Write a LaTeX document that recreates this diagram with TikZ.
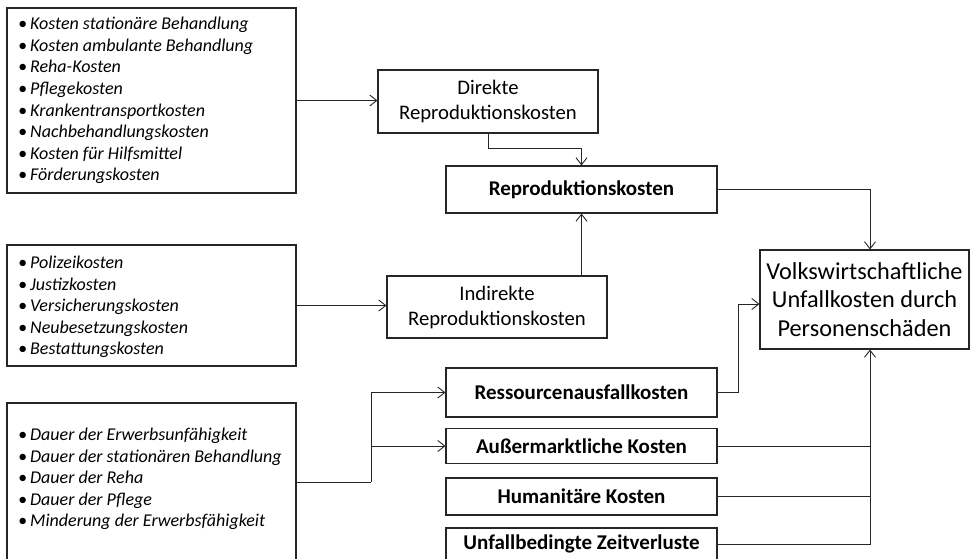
\documentclass[tikz,border=0pt]{standalone}
\usepackage{fontspec}
\setmainfont{Carlito}
\usetikzlibrary{arrows.meta}
\newcommand{\lbul}{\textbullet\hspace{3pt}}
\begin{document}
\begin{tikzpicture}[x=1pt,y=-1pt,
 box/.style={draw=black!85, line width=1.1pt, inner sep=0pt, rectangle},
 conn/.style={draw=black!85, line width=0.9pt, -{Straight Barb[length=7pt,width=11pt,line width=0.9pt]}},
 plain/.style={draw=black!85, line width=0.9pt},
 listtext/.style={font=\fontsize{18}{21.6}\selectfont\itshape, align=left, inner sep=0pt, anchor=west},
 midtext/.style={font=\fontsize{20.7}{25}\selectfont, align=center},
 bigtext/.style={font=\fontsize{24.3}{28.5}\selectfont, align=center},
 boldtext/.style={font=\fontsize{21}{24}\selectfont\bfseries},
]
\useasboundingbox (0,0) rectangle (970,558);
\clip (0,0) rectangle (970,558);
\fill[white] (0,0) rectangle (970,558);

% list boxes
\node[box, minimum width=289pt, minimum height=185pt] (A) at (151.5,100.5) {};
\node[listtext] (At) at (18,100.5) {\lbul Kosten stationäre Behandlung\\
\lbul Kosten ambulante Behandlung\\
\lbul Reha-Kosten\\
\lbul Pflegekosten\\
\lbul Krankentransportkosten\\
\lbul Nachbehandlungskosten\\
\lbul Kosten für Hilfsmittel\\
\lbul Förderungskosten};

\node[box, minimum width=289pt, minimum height=121pt] (B) at (151.5,305.5) {};
\node[listtext] (Bt) at (18,307) {\lbul Polizeikosten\\
\lbul Justizkosten\\
\lbul Versicherungskosten\\
\lbul Neubesetzungskosten\\
\lbul Bestattungskosten};

\node[box, minimum width=289pt, minimum height=158pt] (C) at (151.5,482) {};
\node[listtext] (Ct) at (18,479) {\lbul Dauer der Erwerbsunfähigkeit\\
\lbul Dauer der stationären Behandlung\\
\lbul Dauer der Reha\\
\lbul Dauer der Pflege\\
\lbul Minderung der Erwerbsfähigkeit};

% middle boxes
\node[box, midtext, minimum width=220pt, minimum height=63pt] (Direkte) at (488,101.5) {Direkte\\Reproduktionskosten};
\node[box, boldtext, minimum width=271pt, minimum height=47pt] (Repro) at (581.5,189.5) {Reproduktionskosten};
\node[box, midtext, minimum width=220pt, minimum height=62pt] (Indirekte) at (497,307) {Indirekte\\Reproduktionskosten};

\node[box, boldtext, minimum width=271pt, minimum height=49pt] (Ressource) at (581.5,392.5) {Ressourcenausfallkosten};
\node[box, boldtext, minimum width=271pt, minimum height=35pt] (Aussermarkt) at (581.5,446) {Außermarktliche Kosten};
\node[box, boldtext, minimum width=271pt, minimum height=37pt] (Humanitaere) at (581.5,496.5) {Humanitäre Kosten};
\node[box, boldtext, minimum width=271pt, minimum height=32pt] (Unfall) at (581.5,544) {Unfallbedingte Zeitverluste};

% result
\node[box, bigtext, minimum width=209pt, minimum height=99pt] (Volksw) at (864.5,299.5) {Volkswirtschaftliche\\Unfallkosten durch\\Personenschäden};

\coordinate (vt) at ([xshift=5.5pt]Volksw.north);
\coordinate (vb) at ([xshift=5.5pt]Volksw.south);
\coordinate (vl) at ([yshift=-4.5pt]Volksw.west);
\coordinate (cj) at (371,482);

% connectors
\draw[conn] (A.east) -- (A.east -| Direkte.west);
\draw[conn] (Direkte.south) -- ++(0,15) -| (Repro.north);
\draw[conn] (B.east) -- (B.east -| Indirekte.west);
\draw[conn] (Repro.south |- Indirekte.north) -- (Repro.south);
\draw[conn] (Repro.east) -| (vt);
\draw[conn] (Ressource.east) -- ++(21,0) |- (vl);
\draw[plain] (C.east) -- (cj);
\draw[conn] (cj) |- (Ressource.west);
\draw[conn] (cj) |- (Aussermarkt.west);
\draw[plain] (Aussermarkt.east) -- (Aussermarkt.east -| vb);
\draw[plain] (Humanitaere.east) -- (Humanitaere.east -| vb);
\draw[conn] (Unfall.east) -| (vb);
\end{tikzpicture}
\end{document}
